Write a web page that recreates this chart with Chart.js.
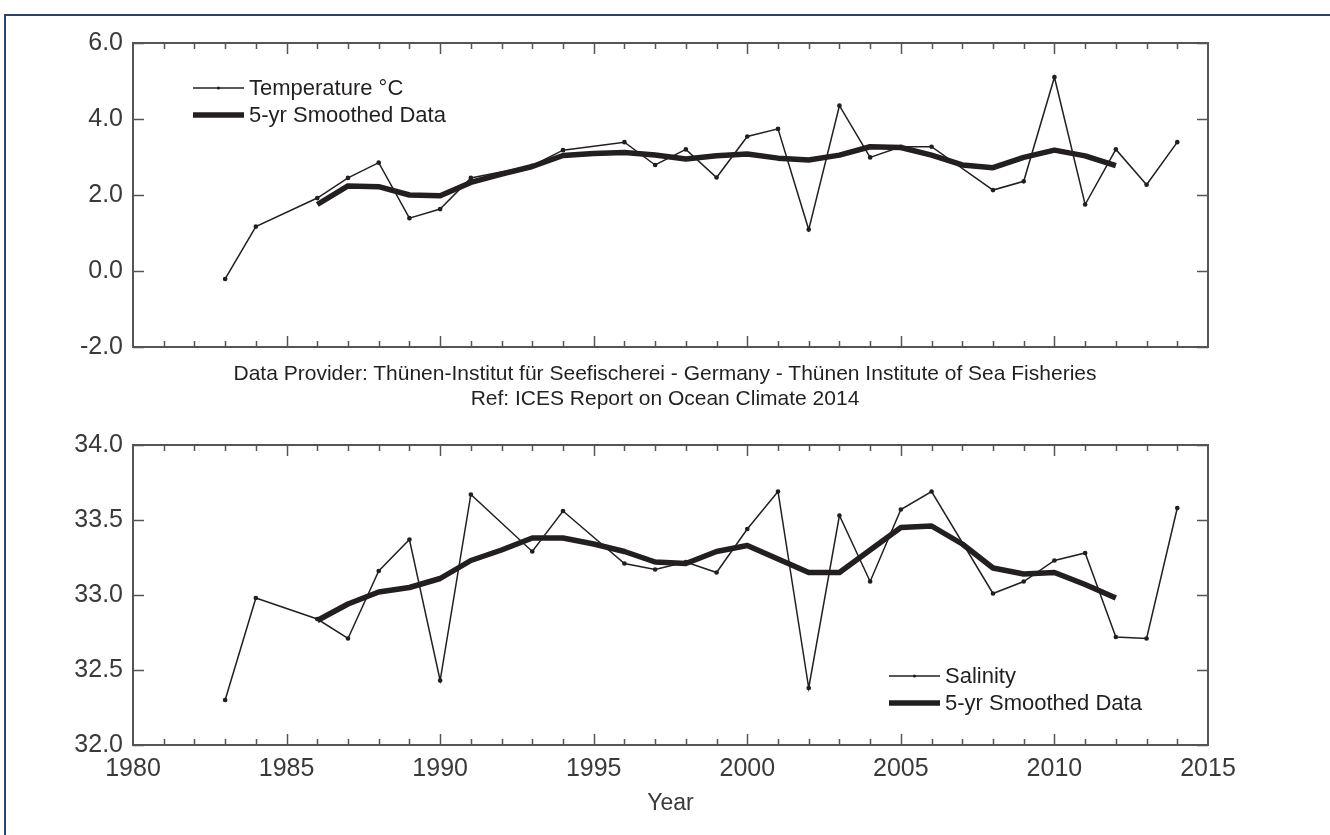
<!DOCTYPE html>
<html>
<head>
<meta charset="utf-8">
<script src="https://cdn.jsdelivr.net/npm/chart.js@4.4.1/dist/chart.umd.min.js"></script>
<style>
  body { margin: 0; background: #fff; width: 1330px; height: 835px; overflow: hidden; position: relative;
         font-family: "Liberation Sans", Arial, Helvetica, sans-serif; }
  #frame { position: absolute; left: 4px; top: 14px; right: -10px; bottom: -10px;
           border-top: 2px solid #27456f; border-left: 2px solid #27456f; }
  #tempChart { position: absolute; left: 0; top: 0; }
  #salChart { position: absolute; left: 0; top: 420px; }
  .note { position: absolute; left: 0; width: 1330px; text-align: center; font-size: 21px; color: #231f20; line-height: 25px; }
</style>
</head>
<body>
<div id="frame"></div>
<canvas id="tempChart" width="1330" height="372"></canvas>
<div class="note" style="top:360px">Data Provider: Thünen-Institut für Seefischerei - Germany - Thünen Institute of Sea Fisheries</div>
<div class="note" style="top:385px">Ref: ICES Report on Ocean Climate 2014</div>
<canvas id="salChart" width="1330" height="415"></canvas>
<script>
const years = [1983, 1984, 1985, 1986, 1987, 1988, 1989, 1990, 1991, 1992, 1993, 1994, 1995, 1996, 1997, 1998,
               1999, 2000, 2001, 2002, 2003, 2004, 2005, 2006, 2007, 2008, 2009, 2010, 2011, 2012, 2013, 2014];

const temperature = [-0.21, 1.17, null, 1.92, 2.45, 2.85, 1.39, 1.63, 2.45, null, 2.77, 3.18, null, 3.39, 2.79, 3.20,
                     2.46, 3.54, 3.74, 1.09, 4.35, 2.99, 3.27, 3.27, null, 2.13, 2.36, 5.10, 1.75, 3.20, 2.27, 3.39];
const temperatureSmoothed = [null, null, null, 1.75, 2.24, 2.22, 2.00, 1.98, 2.33, 2.55, 2.75, 3.04, 3.09, 3.12, 3.05, 2.95,
                             3.03, 3.08, 2.97, 2.92, 3.05, 3.27, 3.25, 3.05, 2.79, 2.72, 2.99, 3.18, 3.03, 2.77, null, null];

const salinity = [32.30, 32.98, null, 32.84, 32.71, 33.16, 33.37, 32.43, 33.67, null, 33.29, 33.56, null, 33.21, 33.17, 33.22,
                  33.15, 33.44, 33.69, 32.38, 33.53, 33.09, 33.57, 33.69, null, 33.01, 33.09, 33.23, 33.28, 32.72, 32.71, 33.58];
const salinitySmoothed = [null, null, null, 32.83, 32.94, 33.02, 33.05, 33.11, 33.23, 33.30, 33.38, 33.38, 33.34, 33.29, 33.22, 33.21,
                          33.29, 33.33, 33.24, 33.15, 33.15, 33.30, 33.45, 33.46, 33.34, 33.18, 33.14, 33.15, 33.07, 32.98, null, null];

const yearTicks = [1980, 1985, 1990, 1995, 2000, 2005, 2010, 2015];
const tempTicks = [-2, 0, 2, 4, 6];
const salTicks = [32, 32.5, 33, 33.5, 34];

const INK = '#231f20';
const AXIS = '#555555';
const LABEL = '#3a3a3a';
const FONT = '"Liberation Sans", Arial, Helvetica, sans-serif';

const toPoints = vals => years.map((yr, i) => ({ x: yr, y: vals[i] }));

// box round the plot, with inward ticks on all four sides
const boxTicks = {
  id: 'boxTicks',
  afterDraw(chart) {
    const { ctx, chartArea: a, scales: { x, y } } = chart;
    ctx.save();
    ctx.strokeStyle = AXIS;
    ctx.lineWidth = 2;
    ctx.strokeRect(a.left, a.top, a.right - a.left, a.bottom - a.top);
    ctx.lineWidth = 1.5;
    ctx.beginPath();
    for (let yr = 1981; yr < 2015; yr++) {
      const px = Math.round(x.getPixelForValue(yr)) + 0.5;
      const len = yr % 5 === 0 ? 11 : 6;
      ctx.moveTo(px, a.top); ctx.lineTo(px, a.top + len);
      ctx.moveTo(px, a.bottom); ctx.lineTo(px, a.bottom - len);
    }
    y.ticks.forEach(t => {
      const py = Math.round(y.getPixelForValue(t.value)) + 0.5;
      ctx.moveTo(a.left, py); ctx.lineTo(a.left + 11, py);
      ctx.moveTo(a.right, py); ctx.lineTo(a.right - 11, py);
    });
    ctx.stroke();
    ctx.restore();
  }
};

// legend drawn inside the plot area
const insideLegend = {
  id: 'insideLegend',
  afterDatasetsDraw(chart, args, opts) {
    const ctx = chart.ctx;
    ctx.save();
    ctx.font = '22px ' + FONT;
    ctx.textBaseline = 'middle';
    ctx.fillStyle = INK;
    chart.data.datasets.forEach((ds, i) => {
      const y = opts.y + i * opts.gap;
      ctx.strokeStyle = ds.borderColor;
      ctx.lineWidth = ds.borderWidth;
      ctx.beginPath();
      ctx.moveTo(opts.x, y);
      ctx.lineTo(opts.x + opts.len, y);
      ctx.stroke();
      if (ds.pointRadius) {
        ctx.beginPath();
        ctx.arc(opts.x + opts.len / 2, y, ds.pointRadius, 0, Math.PI * 2);
        ctx.fill();
      }
      ctx.fillText(ds.label, opts.x + opts.len + 5, y + 1);
    });
    ctx.restore();
  }
};

function datasets(raw, smooth, name) {
  return [
    { label: name, data: toPoints(raw), borderColor: INK, backgroundColor: INK, borderWidth: 1.5,
      pointRadius: 1.6, pointHoverRadius: 1.6, spanGaps: true, tension: 0 },
    { label: '5-yr Smoothed Data', data: toPoints(smooth), borderColor: INK, borderWidth: 5.5,
      pointRadius: 0, spanGaps: false, tension: 0, borderJoinStyle: 'round' }
  ];
}

function yScale(min, max, ticksList) {
  return {
    type: 'linear', min, max,
    afterBuildTicks: s => { s.ticks = ticksList.map(v => ({ value: v })); },
    afterFit: s => { s.width = 133; },
    grid: { display: false, drawTicks: false },
    border: { display: false },
    ticks: { font: { family: FONT, size: 25 }, color: LABEL, padding: 10,
             callback: v => v.toFixed(1) }
  };
}

Chart.defaults.animation = false;

new Chart(document.getElementById('tempChart'), {
  type: 'line',
  data: { datasets: datasets(temperature, temperatureSmoothed, 'Temperature °C') },
  options: {
    responsive: false,
    devicePixelRatio: 1,
    layout: { padding: { left: 0, right: 122, top: 43, bottom: 24 } },
    scales: {
      x: { type: 'linear', min: 1980, max: 2015, display: false },
      y: yScale(-2, 6, tempTicks)
    },
    plugins: {
      legend: { display: false },
      tooltip: { enabled: false },
      insideLegend: { x: 193, y: 88, gap: 27, len: 51 }
    }
  },
  plugins: [boxTicks, insideLegend]
});

new Chart(document.getElementById('salChart'), {
  type: 'line',
  data: { datasets: datasets(salinity, salinitySmoothed, 'Salinity') },
  options: {
    responsive: false,
    devicePixelRatio: 1,
    layout: { padding: { left: 0, right: 122, top: 21, bottom: 0 } },
    scales: {
      x: {
        type: 'linear', min: 1980, max: 2015,
        afterBuildTicks: s => { s.ticks = yearTicks.map(v => ({ value: v })); },
        afterFit: s => { s.height = 90; },
        grid: { display: false, drawTicks: false },
        border: { display: false },
        ticks: { font: { family: FONT, size: 25 }, color: LABEL, padding: 9, maxRotation: 0,
                 callback: v => String(v) },
        title: { display: true, text: 'Year', font: { family: FONT, size: 23 }, color: LABEL,
                 padding: { top: 0, bottom: 18 } }
      },
      y: yScale(32, 34, salTicks)
    },
    plugins: {
      legend: { display: false },
      tooltip: { enabled: false },
      insideLegend: { x: 889, y: 256, gap: 27, len: 51 }
    }
  },
  plugins: [boxTicks, insideLegend]
});
</script>
</body>
</html>
